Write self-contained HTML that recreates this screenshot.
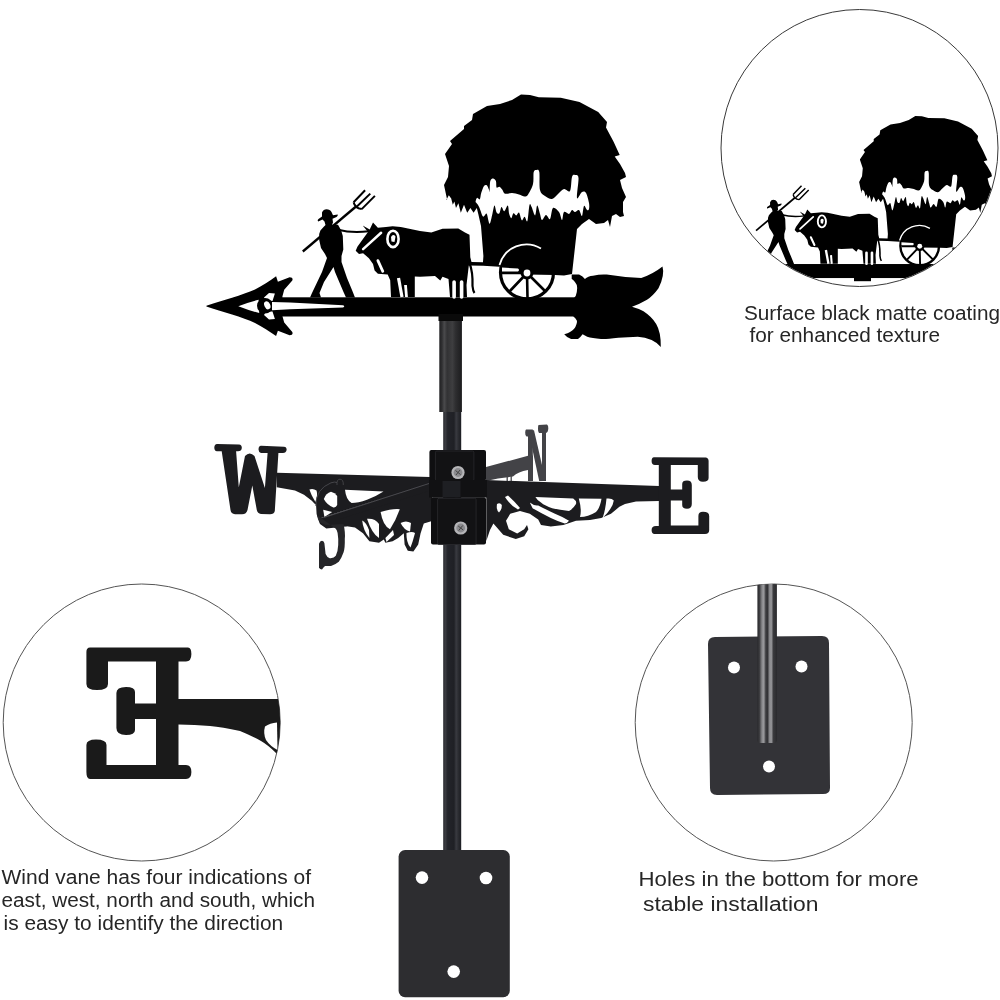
<!DOCTYPE html>
<html><head><meta charset="utf-8">
<style>
html,body{margin:0;padding:0;background:#fff;}
body{width:1000px;height:1000px;overflow:hidden;position:relative;font-family:"Liberation Sans",sans-serif;}
svg{position:absolute;left:0;top:0;}
.t{position:absolute;color:#1e1e1e;font-size:18px;line-height:22.5px;white-space:pre;}
</style></head><body>
<svg width="1000" height="1000" viewBox="0 0 1000 1000">
<defs>
  <linearGradient id="rod" x1="0" x2="1" y1="0" y2="0">
    <stop offset="0" stop-color="#2a2b30"/><stop offset="0.12" stop-color="#3a3b40"/><stop offset="0.25" stop-color="#23242a"/><stop offset="0.6" stop-color="#1f2025"/><stop offset="0.72" stop-color="#393a40"/><stop offset="0.85" stop-color="#2a2b30"/><stop offset="1" stop-color="#1c1d22"/>
  </linearGradient>
  <linearGradient id="sleeve" x1="0" x2="1" y1="0" y2="0">
    <stop offset="0" stop-color="#202022"/><stop offset="0.12" stop-color="#303032"/><stop offset="0.22" stop-color="#4a4a4c"/><stop offset="0.35" stop-color="#323234"/><stop offset="0.58" stop-color="#3e3e40"/><stop offset="0.72" stop-color="#2e2e30"/><stop offset="1" stop-color="#1c1c1e"/>
  </linearGradient>
  <linearGradient id="rod2" x1="0" x2="1" y1="0" y2="0">
    <stop offset="0" stop-color="#2a2a2d"/><stop offset="0.1" stop-color="#3a3a3d"/><stop offset="0.24" stop-color="#8a8a8d"/><stop offset="0.33" stop-color="#9a9a9d"/><stop offset="0.43" stop-color="#3d3d40"/><stop offset="0.52" stop-color="#333336"/><stop offset="0.63" stop-color="#8e8e91"/><stop offset="0.72" stop-color="#929295"/><stop offset="0.82" stop-color="#3a3a3d"/><stop offset="1" stop-color="#29292c"/>
  </linearGradient>
  <clipPath id="c1"><circle cx="859.5" cy="148" r="138"/></clipPath>
  <clipPath id="c2"><circle cx="141.7" cy="722.5" r="138.5"/></clipPath>
  <clipPath id="c3"><circle cx="773.7" cy="722.5" r="138.5"/></clipPath>
</defs>
<!-- circles -->
<circle cx="859.5" cy="148" r="138.5" fill="none" stroke="#3a3a3a" stroke-width="1"/>
<circle cx="141.7" cy="722.5" r="138.5" fill="none" stroke="#555" stroke-width="1"/>
<circle cx="773.7" cy="722.5" r="138.5" fill="none" stroke="#555" stroke-width="1"/>


<g id="vane">
  <!-- bar -->
  <rect x="280" y="297.3" width="300" height="19.2" fill="#000"/>
  <!-- arrowhead -->
  <path d="M206.4 305.8 C222 300.5 243 295 255 289.5 C262 286 270 281 276.1 276.3 L277.9 281.7 L289.6 277.2 Q293.5 277.5 292.3 280.5 L284.2 289.8 L282.4 296.5 L282.4 315.9 L284.2 322.6 L292.3 331.9 Q293.5 334.9 289.6 335.2 L277.9 330.7 L276.1 336.1 C270 331.4 262 326.4 255 322.9 C243 317.4 222 311.9 206.4 306.6 Z" fill="#000"/>
  <path d="M238.3 306.2 Q249 302 258.7 299.8 L259.2 313 Q249 310.4 238.3 306.2 Z" fill="#fff"/>
  <path d="M264 297.5 L269 293 L274.9 293.5 L272.5 301 L266 301 Z M264 314.9 L266 311.4 L272.5 311.4 L274.9 318.9 L269 319.4 Z" fill="#fff"/>
  <ellipse cx="265" cy="305.7" rx="8" ry="7.8" fill="#000"/>
  <ellipse cx="267.3" cy="305.3" rx="2.9" ry="4.2" transform="rotate(-25 267.3 305.3)" fill="#fff"/>
  <path d="M272 302 L290 302.6 L343 305.2 Q345.5 306.2 343 307.6 L290 309.3 L272 310.3 Z" fill="#fff"/>
  <!-- man -->
  <path d="M326.5 209.2 Q330 209.2 331.5 212 L333 215.3 L337.6 214.4 Q338.3 215.5 336.5 217 L332.5 218.8 L333 222.5 L332 224.8 L338 224.8 L341.2 230.4 L342.8 236 L343.3 249.4 L341.5 256 L341.5 262 L347 278 L352 290 L355 297.5 L346 297.5 L343.5 292 L335 272 L333.5 267 L324 282 L319.5 293 L321 297.5 L310 297.5 L312 293 L322 272 L327 258 L325 254 L321 248 L319.2 240 L319.2 234 L320.4 230.4 L324 226.5 L325.5 225 L324.5 221.5 L322.5 219.5 L318.3 221.4 Q317 220.5 318.5 219 L322 216.5 L322 212.5 Q323.5 209.2 326.5 209.2 Z" fill="#000"/>
  <path d="M302.8 251.5 L356 206.5" stroke="#000" stroke-width="2.3" fill="none"/>
  <path d="M353.6 202.2 L365.1 190.2 M357.2 206.3 L370.3 193.6 M361.7 209.1 L374.9 195.9 M353.6 202.2 Q355 208 361.7 209.1" stroke="#000" stroke-width="2" fill="none"/>
  <path d="M338 229.8 Q352 233.5 369 231.3" stroke="#000" stroke-width="2" fill="none"/>
  <!-- ox -->
  <path d="M355.7 250.8 L357.4 246.7 L368 232 L362.7 225.4 L369.7 229.5 L373 222.5 L377.9 227.8 L386 227 L392.6 226.2 L400.8 227 L420 231.1 L431.3 232.5 L442.5 228.75 L458.3 228.4 L465 232.5 L469.5 234.75 L470.3 257.3 L471.5 262 L483 262.3 L499.5 264.3 L499.5 266.8 L483 265.8 L468.8 265.5 L466.5 285 L467 297 L450 297 L448.5 279 L442.5 276.75 L440.25 280.5 L435 276 L420 276.75 L414.8 276.5 L414.8 297 L391 297 L390.2 280.3 L387.7 274.6 L377.9 273.7 L374.6 270.5 L373 263.9 L368.9 258.2 L363.1 253.2 L359 254 Z" fill="#000"/>
  <path d="M469.5 263 Q473 272 472.5 286 Q473 291 474.5 293" stroke="#000" stroke-width="2.2" fill="none"/>
  <path d="M381.1 232.8 L363.1 249.1" stroke="#fff" stroke-width="2.5" fill="none" stroke-linecap="round"/>
  <path d="M377.9 260.6 L382.8 271.3" stroke="#fff" stroke-width="2.8" fill="none" stroke-linecap="round"/>
  <ellipse cx="393" cy="238.9" rx="5.6" ry="8.2" fill="none" stroke="#fff" stroke-width="2.6"/>
  <path d="M391 237 Q393 233.5 395.5 236.5 L394.5 242 L391.5 241.5 Z" fill="#fff"/>
  <path d="M398.5 278 L402 297" stroke="#fff" stroke-width="3.2" fill="none"/>
  <path d="M405.5 285 L406.5 297" stroke="#fff" stroke-width="2.8" fill="none"/>
  <path d="M454.1 282 L454.1 297 M461.6 282 L461.6 297" stroke="#fff" stroke-width="3.6" fill="none" stroke-linecap="round"/>
  <!-- hay + cart -->
  <path d="M447.2 200 L444 185 L448 177 L449 166 L445 154 L452 144 L450 141 L464 129 L464 126 L472 120 L473 114 L487 106 L500 104 L512 100 L521 94.5 L530 95 L538.8 97.2 L560.8 97.7 L579.5 102 L598.2 112 L607 122 L606 127.4 L613.6 141.7 L619.7 155 L614.7 156.6 L620 164 L625 173 L626 177 L620 180 L622 188 L626 197 L623 202 L623 212 L624 216 L620 217 L616 214 L612 216 L610 227 L608 220 L604 223 L596 224 L589 219 L582 224 L577 229 L572 274 L564 275.5 L555 275 L527 274.5 L501 272.5 L499.5 265.5 L483 264.5 L483 262 L483.4 256 L481 226 L478.4 214.4 L476.8 208 L473.6 212.8 L470.4 208 L467.2 212.8 L464 204.8 L460.8 212.8 L458.4 203.2 L456 208 L454.4 201.6 L452.8 204.8 L451.2 198.4 L448.8 195.2 L446.4 200 Z" fill="#000"/>
  <path d="M475.6 201.4 C475.7 200.6 476.3 198.2 477.0 197.9 C477.7 197.6 479.1 200.1 479.8 199.3 C480.5 198.5 480.5 195.2 481.2 193.0 C481.9 190.8 483.1 187.3 484.0 186.0 C484.9 184.7 486.0 184.7 486.8 185.3 C487.6 185.9 488.4 188.4 488.9 189.5 C489.4 190.6 489.4 193.0 489.6 191.6 C489.8 190.2 489.7 183.3 490.3 181.1 C490.9 178.9 492.2 178.6 493.1 178.6 C494.0 178.6 495.3 179.6 495.9 181.1 C496.5 182.6 496.0 186.5 496.6 187.4 C497.2 188.3 498.5 186.3 499.4 186.7 C500.3 187.0 501.3 188.3 502.2 189.5 C503.1 190.7 503.4 193.1 505.0 193.7 C506.6 194.3 509.7 192.9 512.0 193.0 C514.3 193.1 516.9 193.8 519.0 194.4 C521.1 195.0 523.1 196.5 524.6 196.5 C526.1 196.5 526.7 196.5 528.1 194.4 C529.5 192.3 532.1 187.6 533.0 183.9 C533.9 180.2 533.1 174.3 533.7 172.0 C534.3 169.7 535.6 169.9 536.5 169.9 C537.4 169.9 538.7 168.7 539.3 172.0 C539.9 175.3 539.0 186.0 540.0 190.0 C541.0 194.0 543.0 194.5 545.0 196.0 C547.0 197.5 549.8 199.3 552.0 199.0 C554.2 198.7 556.0 195.7 558.0 194.0 C560.0 192.3 562.0 189.5 564.0 189.0 C566.0 188.5 568.7 193.0 570.0 191.0 C571.3 189.0 571.2 179.7 572.0 177.0 C572.8 174.3 573.9 174.8 575.0 175.0 C576.1 175.2 578.2 174.2 578.5 178.0 C578.8 181.8 576.4 195.7 577.0 198.0 C577.6 200.3 580.5 192.8 582.0 192.0 C583.5 191.2 584.8 191.2 586.0 193.0 C587.2 194.8 588.5 200.3 589.0 203.0 C589.5 205.7 589.3 207.8 589.0 209.0 C588.7 210.2 587.8 210.5 587.0 210.0 C586.2 209.5 584.8 205.0 584.0 206.0 C583.2 207.0 582.8 215.3 582.0 216.0 C581.2 216.7 580.2 210.7 579.0 210.0 C577.8 209.3 576.2 212.0 575.0 212.0 C573.8 212.0 573.0 209.7 572.0 210.0 C571.0 210.3 570.3 213.7 569.0 214.0 C567.7 214.3 565.2 211.0 564.0 212.0 C562.8 213.0 562.8 220.0 562.0 220.0 C561.2 220.0 560.5 214.0 559.0 212.0 C557.5 210.0 554.5 206.8 553.0 208.0 C551.5 209.2 551.2 217.8 550.0 219.0 C548.8 220.2 547.3 214.8 546.0 215.0 C544.7 215.2 543.0 220.2 542.0 220.0 C541.0 219.8 540.8 216.4 540.0 214.0 C539.2 211.6 538.0 205.4 537.2 205.6 C536.4 205.8 536.0 215.2 535.1 215.4 C534.2 215.6 532.5 208.8 531.6 207.0 C530.7 205.2 530.2 202.6 529.5 204.9 C528.8 207.2 528.2 219.0 527.4 221.0 C526.6 223.0 525.5 216.9 524.6 216.8 C523.7 216.7 522.7 221.0 521.8 220.3 C520.9 219.6 519.9 213.4 519.0 212.6 C518.1 211.8 517.1 215.3 516.2 215.4 C515.3 215.5 514.2 212.8 513.4 213.3 C512.6 213.8 512.0 218.1 511.3 218.2 C510.6 218.3 509.8 216.1 509.2 214.0 C508.6 211.9 508.6 206.1 507.8 205.6 C507.0 205.1 505.4 211.0 504.3 211.2 C503.2 211.4 502.3 206.7 501.5 207.0 C500.7 207.3 500.2 212.4 499.4 213.3 C498.6 214.2 497.4 213.9 496.6 212.6 C495.8 211.3 495.2 205.4 494.5 205.6 C493.8 205.8 493.2 211.0 492.4 214.0 C491.6 217.0 490.5 223.8 489.6 223.8 C488.7 223.8 487.6 215.4 486.8 214.0 C486.0 212.6 485.4 215.1 484.7 215.4 C484.0 215.8 483.5 217.5 482.6 216.1 C481.7 214.7 480.2 209.2 479.1 207.0 C478.1 204.8 476.9 203.7 476.3 202.8 C475.7 201.9 475.5 202.2 475.6 201.4 Z" fill="#fff"/>
  <!-- wheel -->
  <circle cx="527" cy="272.5" r="26.5" fill="none" stroke="#000" stroke-width="3.2"/>
  <path d="M499.5 265 A28 28 0 0 1 541 248.5" stroke="#fff" stroke-width="1.8" fill="none"/>
  <path d="M502 273 L527 273 M527 273 L509 292 M527 273 L527.5 298 M527 273 L545 291" stroke="#000" stroke-width="2.6" fill="none"/>
  <path d="M502 267.5 L518 268.5 Q520 270 518 271.5 L502 271.5 Z" fill="#fff"/>
  <circle cx="527" cy="273" r="6.5" fill="#000"/>
  <circle cx="527" cy="273" r="3.4" fill="#fff"/>
  <!-- tail fletching -->
  <path d="M571.7 274.5 L579.1 274.5 Q583 276 584.9 279.1 Q588 276 593 275.7 Q600 274 606.75 274.5 Q625 277.5 641.25 278 Q653 274 662.5 266.5 Q665 275 658.5 288.35 Q653 296 647 299.85 Q640 304 632 306.75 Q640 309 643.5 311.35 Q652 317 656.2 324 Q661 332 660.8 347 Q656 342 651.6 340.1 Q645 337 637.8 336.65 Q628 337 618.25 337.8 Q605 339.5 601 339 Q592 338 587.2 336.65 L582.6 334.35 Q580 338 578 339 L571.1 339 Q566 337 564.2 334.35 Q568 333.5 570 332 Q575 329 575.7 326.3 Q577.5 322 576.8 320.55 Q575.5 318 573.4 316.5 L573.4 298.7 Q576.5 296 576.8 292 Q577.5 287 576.8 285 Q574 280 571.7 279 Z" fill="#000"/>
</g>

<!-- main pole -->
<rect x="443.2" y="318" width="18" height="540" fill="url(#rod)"/>
<rect x="439.3" y="320" width="22.6" height="92" fill="url(#sleeve)"/>
<rect x="438.5" y="314" width="24.5" height="7" fill="#0a0a0a"/>

<g id="compass">
  <!-- N arm (behind) -->
  <path d="M486 467 L528 455.8 L533 455.5 L533 481 L528 481 L528 470 Q518 471.5 513 476.5 Q505 477.5 498 478.5 L486 481 Z" fill="#434347"/>
  <path d="M507.2 476 L507.2 481 M511.2 475 L511.2 481" stroke="#434347" stroke-width="1.3"/>
  <path d="M526 429.6 L532.8 429.4 L532.8 481 L528 481 L528 436.6 L526.5 436.6 Q525 435 525.2 432.5 Q525.3 430 526 429.6 Z" fill="#434347"/>
  <path d="M529.6 430.2 L534 430.2 L544.5 476 L544 481 L539.2 481 L530 438 Z" fill="#434347"/>
  <path d="M538.5 425 L547 424.6 Q548.5 425.5 548.3 428.5 Q548 432.5 546 433 L546 481 L542 481 L542 433 L539 433 Q537.8 431.5 538 428.5 Q538 425.5 538.5 425 Z" fill="#434347"/>
  <!-- W arm + upper decoration -->
  <path d="M276.8 472.7 L430 477 L430 483 L318 519 L316.6 514 L316 504 L315.4 504.4 L311.8 500.8 L304 494.8 L295 490.6 L276.8 487.2 Z" fill="#1c1c1f"/>
  <path d="M309.4 489.5 Q313 488 316.5 490.5 Q318 495 315.4 502 Q311 495 309.4 489.5 Z" fill="#fff"/>
  <path d="M331 491.8 Q335 492.5 337.2 496 L337.2 505 Q336 507.8 333.4 507.4 Q327 505 323.8 499 Q326 493 331 491.8 Z" fill="#fff"/>
  <path d="M323.2 509.8 L332.2 512 L324.4 517 Z" fill="#fff"/>
  <path d="M345 489.8 L383.5 491.5 Q375 497 367 499.7 Q358 503 351.6 503 Q346 500 345 489.8 Z" fill="#fff"/>
  <path d="M315.8 506 Q315.5 489 331 482.8 Q335 481.5 337 482.5" stroke="#4a4a4e" stroke-width="0.9" fill="none"/>
  <path d="M337 485 Q336.5 479.2 340 479.2 Q343.5 479.3 343.3 485" stroke="#4a4a4e" stroke-width="0.8" fill="none"/>
  <!-- S arm -->
  <path d="M318 519 L430 482 L430 497 L360 521 L346 526.5 L326.3 528.5 L320 524 Z" fill="#1c1c1f"/>
  <path d="M324 517.5 L429 483.5" stroke="#55555a" stroke-width="0.8" fill="none"/>
  <!-- S lower -->
  <path d="M317 515 L319.6 522.2 L325.6 525 L343.6 524 Q345.5 533 344.8 539 Q345 548 343.6 552.2 Q341.5 558 338.8 561.8 Q335 565 331 566 L325 566 Q323 567.5 322 569.6 Q320 569.5 319 567.8 L319 543.8 Q320 541 322 540.8 Q324 541 324.4 543.2 L325.6 554 Q327 557.5 329.8 558.2 Q334 558.5 335.8 555.8 Q338 551 338.2 545 Q338.5 538 337.6 533 Q337 530 335.8 528.8 Z" fill="#262629"/>
  <!-- S arm decoration -->
  <path d="M340 519 L432 490 L432 521 L423.8 523.6 L420.6 533.2 L418.2 544.4 L413.4 551.6 L407.8 550.8 L404.6 544.4 L403.8 533.2 L398.2 538 L392.6 541.2 L385.4 542.8 L383.8 539.6 L379 542.8 L369.4 541.2 L363 533.2 L355 527.6 L345 526 Z" fill="#1c1c1f"/>
  <path d="M362.2 520.4 Q366 522 369 530 L369.4 538 Q363 530 362.2 520.4 Z" fill="#fff"/>
  <path d="M367 518.8 Q375 518 379 524 L379 538 Q372 534 367 518.8 Z" fill="#fff"/>
  <path d="M380.6 512 Q392 508.5 399.8 509.2 Q396 520 390 529.2 Q383 526 380.6 512 Z" fill="#fff"/>
  <path d="M385.4 538 L393 530 L394 535 L386.5 542 Z" fill="#fff"/>
  <path d="M400.6 523 Q406 520 411 523 L410 531.6 Q404 530 400.6 523 Z" fill="#fff"/>
  <path d="M406.5 533 Q412 531 415 533 Q413 541 410.5 547.6 Q406 542 406.5 533 Z" fill="#fff"/>
  <!-- E arm + decoration -->
  <path d="M486.3 480.1 L659 486 L659 501 L636 501.6 L625 504 L619.4 506.8 L611 513.8 L601.2 518 L590 520.1 L576 520.8 L563.4 525 L550.8 526.4 L541 525 L538.2 519.4 L529.8 513.8 L520 511 L510.2 513.8 L506 520.8 L508.8 529.2 L517.2 533.4 L524.2 529.2 L527 525 L528.4 529.2 L524.2 536.2 L515.8 539 L503.2 534.8 L493.4 523.6 L490 530 L486.3 541 Z" fill="#1c1c1f"/>
  <path d="M497 504 Q500 502 501.8 505 Q502 510 499 512.4 Q496 510 497 504 Z" fill="#fff"/>
  <path d="M505 497 L508 495.6 Q515 502 520 508 L518 509.6 Q510 505 505 497 Z" fill="#fff"/>
  <path d="M535.4 497 L573.2 498.4 Q577 501 576 504 Q573 509 569 511 Q560 510 552.2 508.2 Q545 506 541 502.6 Q537 500 535.4 497 Z" fill="#fff"/>
  <path d="M529.8 502.6 Q534 506 538.2 505.4 Q547 510 555 513.8 Q563 517 569 520.8 Q567 523.6 564.8 523.6 Q557 521 550.8 518 Q541 513 532.6 508.2 Z" fill="#fff"/>
  <path d="M578.8 498.4 L601.5 498.8 Q600 508 596 512 Q588 517 580 517 Q582 510 578.8 498.4 Z" fill="#fff"/>
  <path d="M606.5 498.6 Q612 498 613.8 500.5 Q613 508 602.6 518 Q605.5 510 606.5 498.6 Z" fill="#fff"/>
  <!-- W letter -->
  <path d="M217 444 L239 444.5 Q242 445 241.8 448 Q241.5 451.2 238 451.2 L236.1 451.2 L238.8 487.2 L245 456 Q249.6 451 254.5 456 L264.9 488.1 L267.6 453 L261 453 Q258.5 452 258.5 449.5 Q258.6 445.8 261 445.8 L284 446.7 Q286.8 447 286.6 450 Q286 453 283 453 L278.4 453 L274.8 511 Q274 514.2 270 514.2 L261 514 Q257.5 513.5 256.8 510 L252.3 485.5 L247.5 510 Q246.5 514.2 242 514.2 L235 514.2 Q231 514 230.5 510 L221.7 451.2 L217 451.2 Q214.3 451 214.3 447.5 Q214.5 444 217 444 Z" fill="#1c1c1f"/>
  <!-- E letter -->
  <path d="M654 457.2 L706 457.5 Q708.6 458 708.6 461 L708.6 478 Q708.6 481.8 703 481.8 Q697.8 481.8 697.8 477 L697.8 465 L670.8 465 L670.8 489.6 L682.2 489.6 L682.2 484 Q682.2 480.6 687 480.6 Q691.8 480.6 691.8 485 L691.8 504 Q691.8 508.8 687 508.8 Q682.2 508.8 682.2 505 L682.2 500.4 L670.8 500.4 L670.8 525.6 L698.4 525.6 L698.4 516 Q698.4 511.8 703 511.8 Q709.2 511.8 709.2 516 L709.2 530 Q709.2 534 705 534 L654 534 Q651.6 533.5 651.6 530 Q651.6 526 656 526 L658.8 526 L658.8 465 L655 465 Q651.6 465 651.6 461 Q651.6 457.2 654 457.2 Z" fill="#1c1c1f"/>
  <!-- mount -->
  <rect x="429.4" y="449.9" width="56.6" height="31" rx="2" fill="#0f0f11"/>
  <rect x="435.4" y="451" width="38.5" height="29.7" rx="1.5" fill="#121214" stroke="#2e2e32" stroke-width="0.7"/>
  <rect x="429" y="480" width="58" height="17.5" fill="#111113"/>
  <rect x="442.5" y="481" width="18" height="16" fill="#1e1f23"/>
  <rect x="431" y="497.2" width="55" height="47.3" rx="2" fill="#0f0f11"/>
  <rect x="437.6" y="498.3" width="38.5" height="46.2" rx="1.5" fill="#121214" stroke="#2e2e32" stroke-width="0.7"/>
  <circle cx="458" cy="472.5" r="6.6" fill="#b5b5b8"/>
  <circle cx="458" cy="472.5" r="4.4" fill="#8a8a8e"/>
  <path d="M455.5 470.5 L460.5 474.5 M460 470 L456 475" stroke="#444" stroke-width="1"/>
  <circle cx="460.7" cy="528" r="6.6" fill="#b5b5b8"/>
  <circle cx="460.7" cy="528" r="4.4" fill="#8a8a8e"/>
  <path d="M458.2 526 L463.2 530 M462.7 525.5 L458.7 530.5" stroke="#444" stroke-width="1"/>
</g>

<!-- bottom plate -->
<rect x="398.6" y="850" width="111.2" height="147.2" rx="6.5" fill="#2d2d30"/>
<circle cx="422" cy="877.6" r="6.3" fill="#fff"/>
<circle cx="486" cy="878" r="6.3" fill="#fff"/>
<circle cx="453.7" cy="971.6" r="6.3" fill="#fff"/>


<g clip-path="url(#c1)"><use href="#vane" transform="translate(535 47) scale(0.73)"/>
<rect x="854" y="276" width="17" height="5.2" fill="#000"/></g>

<!-- bottom-right circle content -->
<g clip-path="url(#c3)">
  <path d="M715 637 L822 636 Q829 636 829 643 L830 788 Q830 794 823 794 L717 795 Q710 795 710 788 L708 644 Q708 637 715 637 Z" fill="#333337"/>
  <circle cx="734" cy="667.5" r="6" fill="#fff"/>
  <circle cx="801.5" cy="666.6" r="6" fill="#fff"/>
  <circle cx="769" cy="766.5" r="6" fill="#fff"/>
  <rect x="757.4" y="570" width="19.5" height="173" rx="3" fill="url(#rod2)"/>
</g>

<!-- bottom-left circle content: E -->
<g clip-path="url(#c2)" fill="#1a1a1a">
  <path d="M90 647.4 L188 647.4 Q191.4 647.4 191.4 654 Q191.4 661.5 186 661.5 L178.5 661.5 L178.5 699 L290 699 L290 758 L276 753 Q268 745 261 741 Q250 735 240 731 Q222 727 210 726 Q195 724.5 178.5 724.5 L178.5 765 L186 765 Q191.4 765 191.4 772 Q191.4 779 186 779 L90 779 Q86.4 779 86.4 772 L86.4 745 Q86.4 739.5 96 739.5 Q106.5 739.5 106.5 745 L106.5 765 L156 765 L156 719 L135 719 L135 730 Q135 735 126 735 Q116.4 735 116.4 728 L116.4 693 Q116.4 687 126 687 Q135 687 135 692 L135 703.5 L156 703.5 L156 661.5 L108 661.5 L108 684 Q108 690 97 690 Q86.4 690 86.4 684 L86.4 652 Q86.4 647.4 90 647.4 Z"/>

  <path d="M265 726.5 Q270 723 277 722.5 L277.5 750 Q270 746 266 740 Q263 733 265 726.5 Z" fill="#fff"/>
</g>

</svg>
<svg width="1000" height="1000" viewBox="0 0 1000 1000" style="position:absolute;left:0;top:0;will-change:transform">
<g font-family="Liberation Sans" font-size="19.5" fill="#262626">
<text x="744" y="319.7" textLength="256" lengthAdjust="spacingAndGlyphs">Surface black matte coating</text>
<text x="749.5" y="341.8" textLength="190.5" lengthAdjust="spacingAndGlyphs">for enhanced texture</text>
<text x="1.5" y="884" textLength="309.5" lengthAdjust="spacingAndGlyphs">Wind vane has four indications of</text>
<text x="1.5" y="907.3" textLength="313.5" lengthAdjust="spacingAndGlyphs">east, west, north and south, which</text>
<text x="3.5" y="929.5" textLength="279.7" lengthAdjust="spacingAndGlyphs">is easy to identify the direction</text>
<text x="638.5" y="885.8" textLength="280.2" lengthAdjust="spacingAndGlyphs">Holes in the bottom for more</text>
<text x="643" y="911" textLength="175.5" lengthAdjust="spacingAndGlyphs">stable installation</text>
</g></svg>
</body></html>
